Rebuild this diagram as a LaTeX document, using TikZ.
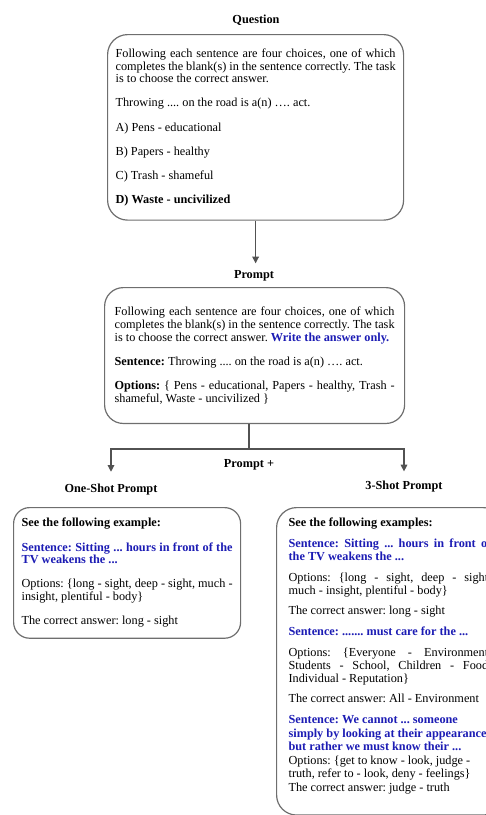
\documentclass[tikz,border=0pt]{standalone}
\usepackage{fontspec}
\setmainfont{Liberation Serif}
\usetikzlibrary{arrows.meta,positioning,calc}
\definecolor{promptblue}{RGB}{28,28,180}
\definecolor{boxgray}{RGB}{110,110,110}
\frenchspacing

\begin{document}
\begin{tikzpicture}[
  x=0.75pt, y=-0.75pt,
  >={Triangle[length=5pt,width=5pt]},
  every node/.style={font=\fontsize{9.2}{9.6}\selectfont},
  title/.style={font=\fontsize{9.2}{9.6}\selectfont\bfseries},
  card/.style={draw=boxgray, line width=0.9pt, rounded corners=15pt,
               align=justify, anchor=north west, inner xsep=6pt},
  link/.style={draw=black!68, line width=0.8pt},
]
\useasboundingbox (0,0) rectangle (486,815);
\clip (0,0) rectangle (486,815);

% question
\node[title] (qtitle) at (256,20) {Question};
\node[card, text width=210pt, inner ysep=10.5pt] (question) at (107,34) {%
  Following each sentence are four choices, one of which\linebreak
  completes the blank(s) in the sentence correctly. The task\linebreak
  is to choose the correct answer.\\[8.5pt]
  Throwing .... on the road is a(n) …. act.\\[8.5pt]
  A) Pens - educational\\[8.5pt]
  B) Papers - healthy\\[8.5pt]
  C) Trash - shameful\\[8.5pt]
  \textbf{D) Waste - uncivilized}};

% prompt
\node[title] (ptitle) at (254,276) {Prompt};
\node[card, text width=210pt, inner xsep=7.5pt, inner ysep=14.5pt, rounded corners=14pt] (prompt) at (104,287) {%
  Following each sentence are four choices, one of which\linebreak
  completes the blank(s) in the sentence correctly. The task\linebreak
  is to choose the correct answer. {\color{promptblue}\textbf{Write the answer only.}}\\[8.5pt]
  \textbf{Sentence:} Throwing .... on the road is a(n) …. act.\\[8.5pt]
  \textbf{Options:} \{ Pens - educational, Papers - healthy, Trash -\linebreak
  shameful, Waste - uncivilized \}};

\draw[link, ->, shorten >=2pt] (question.south) -- (question.south |- ptitle.north);

% branching
\coordinate (split) at (249,449);
\node[title] (plus) at (249,465) {Prompt +};
\node[title] (onetitle) at (111,490) {One-Shot Prompt};
\node[title] (threetitle) at (404,487) {3-Shot Prompt};

\draw[link] (prompt.south -| split) -- (split);
\draw[link, ->, shorten >=6pt] (split) -| (onetitle);
\draw[link, ->, shorten >=4pt] (split) -| (threetitle);

% one-shot
\node[card, text width=158.25pt, inner ysep=8pt, rounded corners=12pt] (oneshot) at (13,507) {%
  \textbf{See the following example:}\\[8.5pt]
  {\color{promptblue}\textbf{Sentence: Sitting ... hours in front of the\linebreak
  TV weakens the ...}}\\[8.5pt]
  Options: \{long - sight, deep - sight, much -\linebreak
  insight, plentiful - body\}\\[8.5pt]
  The correct answer: long - sight};

% 3-shot
\node[card, text width=152pt, inner xsep=9pt, inner ysep=8pt] (threeshot) at (276,507) {%
  \textbf{See the following examples:}\\[6pt]
  {\color{promptblue}\textbf{Sentence: Sitting ... hours in front of\linebreak
  the TV weakens the ...}}\\[6pt]
  Options: \{long - sight, deep - sight,\linebreak
  much - insight, plentiful - body\}\\[6pt]
  The correct answer: long - sight\\[6pt]
  {\color{promptblue}\textbf{Sentence: ....... must care for the ...}}\\[6pt]
  Options: \{Everyone - Environment,\linebreak
  Students - School, Children - Food,\linebreak
  Individual - Reputation\}\\[6pt]
  The correct answer: All - Environment\\[6pt]
  {\color{promptblue}\textbf{Sentence: We cannot ... someone\\[0.5pt]
  simply by looking at their appearance,\\[0.5pt]
  but rather we must know their ...}}\\[0.5pt]
  Options: \{get to know - look, judge -\\[0.5pt]
  truth, refer to - look, deny - feelings\}\\[0.5pt]
  The correct answer: judge - truth\rule[-10pt]{0pt}{1pt}};
\end{tikzpicture}
\end{document}
